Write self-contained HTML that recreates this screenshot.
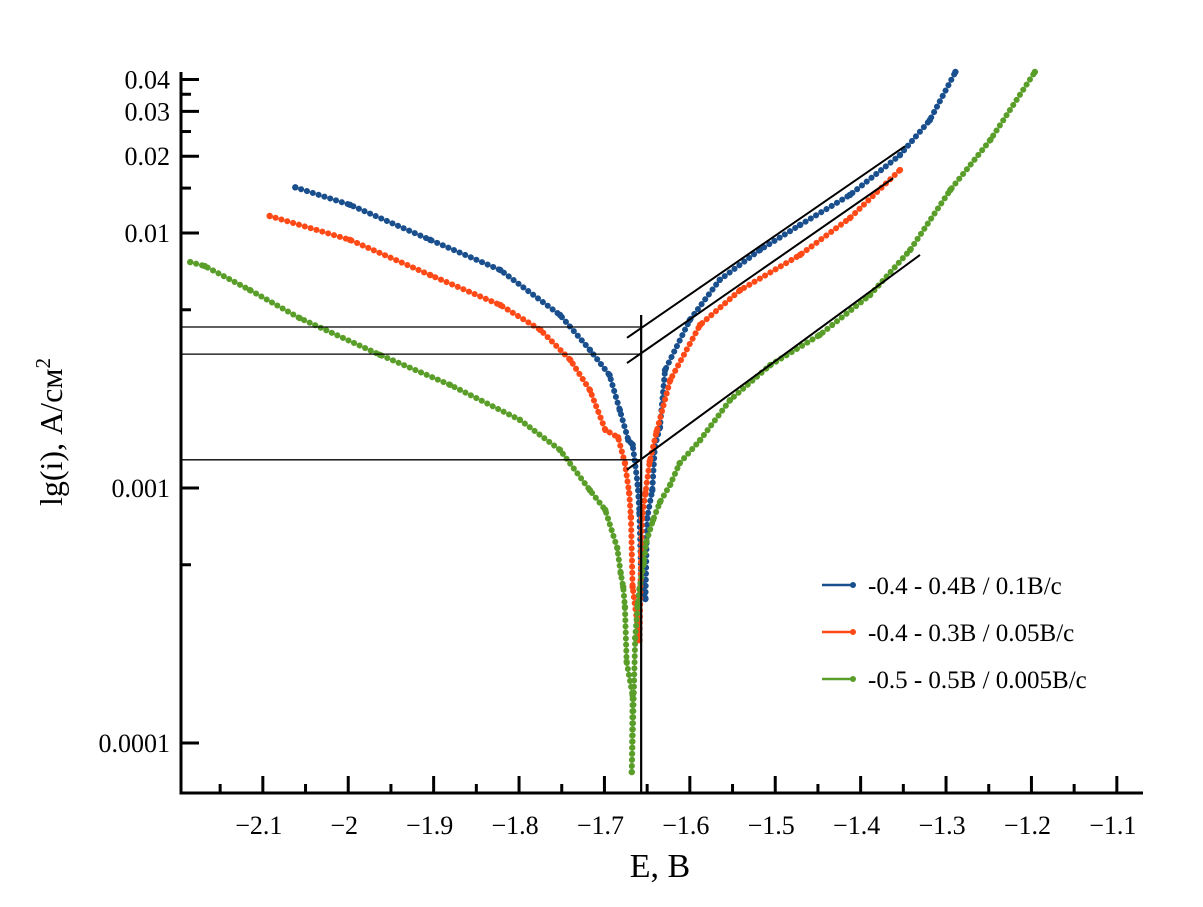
<!DOCTYPE html>
<html><head><meta charset="utf-8"><style>
body{margin:0;background:#fff}
svg text{font-family:"Liberation Serif",serif;fill:#000}
</style></head><body>
<svg id="c" width="1203" height="902" xmlns="http://www.w3.org/2000/svg"></svg>
<script>
const xTicks=[-2.1,-2,-1.9,-1.8,-1.7,-1.6,-1.5,-1.4,-1.3,-1.2,-1.1];
const xMinor=[-2.15,-2.05,-1.95,-1.85,-1.75,-1.65,-1.55,-1.45,-1.35,-1.25,-1.15];
const yTickVals=[0.04,0.03,0.02,0.01,0.001,0.0001];
const yTickLabels=["0.04","0.03","0.02","0.01","0.001","0.0001"];
const yMinor=[0.035,0.025,0.015,0.005,0.0005];
const seriesNames=["-0.4 - 0.4В / 0.1В/с","-0.4 - 0.3В / 0.05В/с","-0.5 - 0.5В / 0.005В/с"];
const blueE=[-2.062,-1.998,-1.904,-1.822,-1.752,-1.717,-1.694,-1.682,-1.672,-1.667,-1.661,-1.659,-1.657,-1.652,-1.650,-1.644,-1.641,-1.635,-1.629,-1.600,-1.565,-1.518,-1.471,-1.4125,-1.354,-1.319,-1.289];
const blueI=[0.0151,0.0129,0.0094,0.00716,0.00477,0.00348,0.00277,0.00202,0.00154,0.00148,0.00103,0.000798,0.000456,0.000367,0.000762,0.00098,0.00145,0.00173,0.0029,0.00456,0.00655,0.00858,0.01075,0.0141,0.0202,0.0277,0.0428];
const redE=[-2.092,-1.998,-1.904,-1.822,-1.775,-1.740,-1.717,-1.699,-1.684,-1.676,-1.671,-1.669,-1.667,-1.659,-1.657,-1.656,-1.652,-1.647,-1.639,-1.623,-1.588,-1.541,-1.471,-1.4125,-1.354];
const redI=[0.01166,0.0094,0.00684,0.00522,0.00417,0.00318,0.00242,0.00169,0.00158,0.00125,0.000955,0.000769,0.000409,0.000253,0.000556,0.000762,0.000955,0.00127,0.00166,0.00265,0.00436,0.00597,0.0082,0.01145,0.01766];
const greenE=[-2.185,-2.168,-2.115,-2.057,-1.963,-1.881,-1.799,-1.752,-1.717,-1.699,-1.685,-1.681,-1.678,-1.676,-1.674,-1.667,-1.668,-1.664,-1.661,-1.659,-1.654,-1.651,-1.643,-1.635,-1.623,-1.612,-1.588,-1.553,-1.506,-1.448,-1.389,-1.342,-1.295,-1.248,-1.196];
const greenI=[0.00769,0.00742,0.00597,0.00464,0.00333,0.00254,0.00185,0.00141,0.00098,0.00082,0.000582,0.000464,0.000409,0.000341,0.000208,0.000154,0.0000769,0.000258,0.000348,0.000402,0.000508,0.000614,0.00075,0.00088,0.00103,0.00125,0.00154,0.00221,0.00303,0.00398,0.00571,0.00858,0.01475,0.0232,0.0428];
const hLines=[0.00428,0.00335,0.00129];
const ecorr=-1.657;
const tafelE=[[-1.6736,-1.348],[-1.6736,-1.362],[-1.6736,-1.3305]];
const tafelI=[[0.00388,0.0219],[0.00309,0.0164],[0.00118,0.0082]];
const colors=["#1a4f8e","#ff4a17","#5a9e2a"];

const NS="http://www.w3.org/2000/svg";
const svg=document.getElementById('c');
const X=e=>180+(e+2.197)*854;
const Y=i=>233-(Math.log10(i)+2)*255;
const T=793, L=181, TOP=72, R=1143;
function mk(tag,a,p){const el=document.createElementNS(NS,tag);for(const k in a)el.setAttribute(k,a[k]);(p||svg).appendChild(el);return el;}

let el=mk('line',{x1:L,y1:TOP,x2:L,y2:T+1.5,stroke:'#000','stroke-width':3});


el=mk('line',{x1:L-1.5,y1:T,x2:R,y2:T,stroke:'#000','stroke-width':3});


xTicks.forEach(v=>{
  const t=mk('line',{x1:X(v),y1:T,x2:X(v),y2:T-17,stroke:'#000','stroke-width':3});
  
  
  const s=mk('text',{x:X(v)-4,y:834,'font-size':26,'text-anchor':'middle'});
  s.textContent=(v<0?'\u2212':'')+String(Math.abs(v));
  
  
});
xMinor.forEach(v=>{
  const m=mk('line',{x1:X(v),y1:T,x2:X(v),y2:T-9,stroke:'#000','stroke-width':3});
  
  
});
yTickVals.forEach((v,k)=>{
  const t=mk('line',{x1:L,y1:Y(v),x2:L+18,y2:Y(v),stroke:'#000','stroke-width':3});
  
  
  const s=mk('text',{x:170,y:Y(v)+9,'font-size':26,'text-anchor':'end'});
  s.textContent=yTickLabels[k];
  
  
});
yMinor.forEach(v=>{
  const t=mk('line',{x1:L,y1:Y(v),x2:L+10,y2:Y(v),stroke:'#000','stroke-width':3});
  
  
});
el=mk('text',{x:0,y:0,'font-size':32,'text-anchor':'middle',transform:'translate(62,432) rotate(-90)'});
el.innerHTML='lg(i), А/см<tspan dy="-12" font-size="21">2</tspan>';


el=mk('text',{x:660,y:877,'font-size':34,'text-anchor':'middle'});
el.textContent='E, В';



[[blueE,blueI],[redE,redI],[greenE,greenI]].forEach((s,k)=>{
  const g=mk('g',{});
  
  
  const E=s[0],I=s[1];
  const pts=E.map((e,j)=>X(e)+','+Y(I[j]));
  const pl=mk('polyline',{points:pts.join(' '),fill:'none',stroke:colors[k],'stroke-width':6,'stroke-linejoin':'round','stroke-linecap':'round','stroke-dasharray':'0.1 6'},g);
  
  
  E.forEach((e,j)=>{
    const c=mk('circle',{cx:X(e),cy:Y(I[j]),r:3.2,fill:colors[k]},g);
    
    
  });
});

hLines.forEach(v=>{
  const l=mk('line',{x1:L,y1:Y(v),x2:X(ecorr),y2:Y(v),stroke:'#000','stroke-width':1.3});
  
  
});
el=mk('line',{x1:X(ecorr),y1:315,x2:X(ecorr),y2:T,stroke:'#000','stroke-width':2.2});


tafelE.forEach((e,k)=>{
  const l=mk('line',{x1:X(e[0]),y1:Y(tafelI[k][0]),x2:X(e[1]),y2:Y(tafelI[k][1]),stroke:'#000','stroke-width':2});
  
  
});

seriesNames.forEach((n,k)=>{
  const g=mk('g',{});
  
  
  const y=585+k*47;
  mk('line',{x1:822,y1:y,x2:853,y2:y,stroke:colors[k],'stroke-width':2.5},g);
  mk('circle',{cx:853,cy:y,r:3,fill:colors[k]},g);
  const t=mk('text',{x:868,y:y+9,'font-size':25},g);
  t.textContent=n;
});
</script>
</body></html>
